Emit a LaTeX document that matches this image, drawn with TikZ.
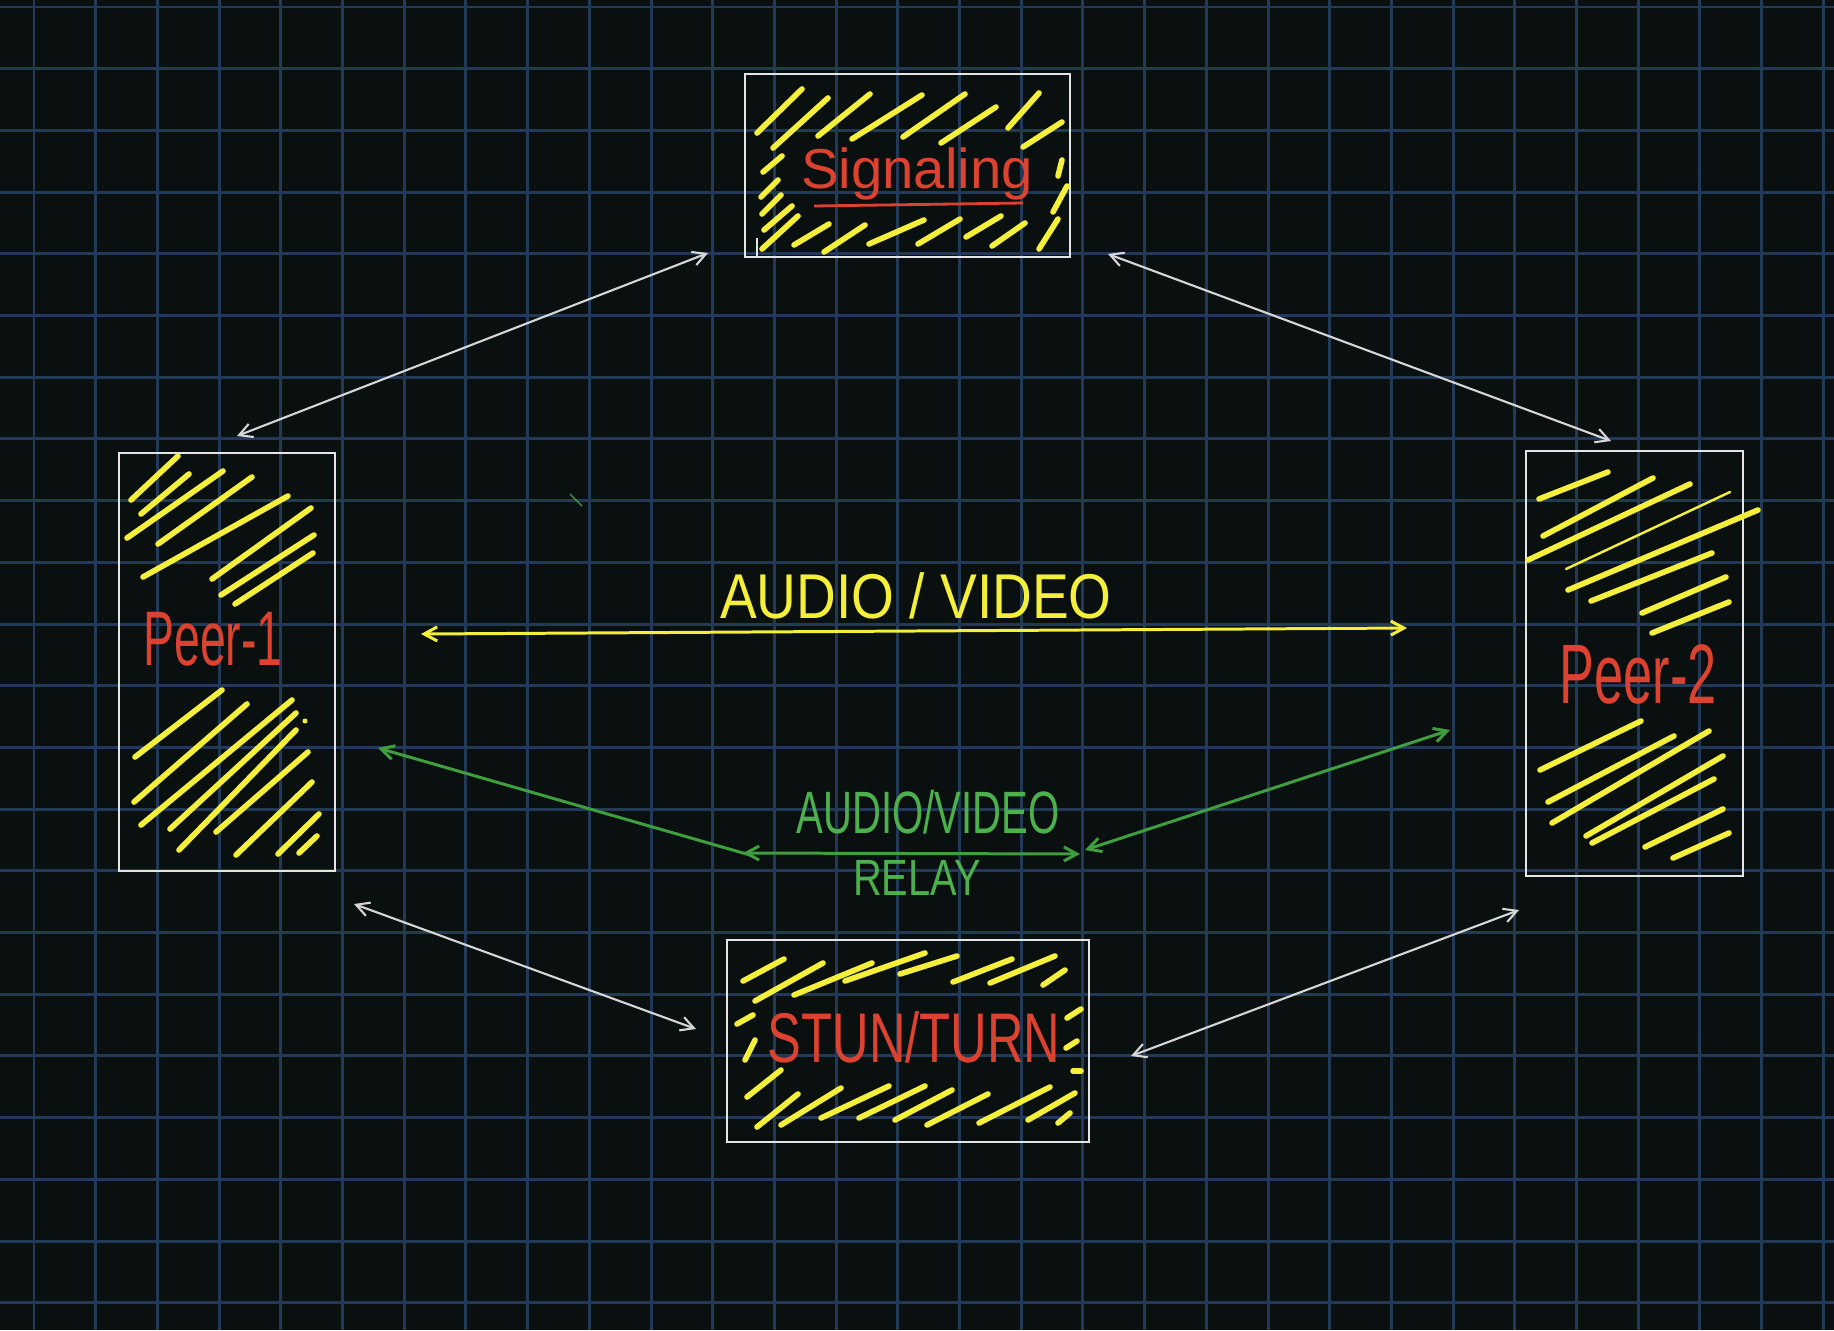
\documentclass[tikz,border=0pt]{standalone}
\usepackage{fontspec}
\newfontfamily\hand{Liberation Sans}
\usetikzlibrary{arrows.meta}

\definecolor{bgcol}{HTML}{0A0F10}
\definecolor{gridcol}{HTML}{223A58}
\definecolor{boxcol}{HTML}{E4E4E4}
\definecolor{linkcol}{HTML}{D6D6D6}
\definecolor{hatchcol}{HTML}{F4EF3A}
\definecolor{redtxt}{HTML}{DC4230}
\definecolor{relaycol}{HTML}{3F9F3F}
\definecolor{relaytxt}{HTML}{4CB04C}

\begin{document}
\begin{tikzpicture}[x=0.01cm, y=-0.01cm]
\tikzstyle{gridln}=[gridcol, line width=0.85pt]
\tikzstyle{box}=[draw=boxcol, line width=0.6pt, inner sep=0pt, rectangle]
\tikzstyle{hatch}=[hatchcol, line width=1.6pt, line cap=round]
\tikzstyle{lbl}=[inner sep=0pt, anchor=base]
\tikzstyle{link}=[<->, >={Straight Barb[length=1.3mm,width=1.4mm]}, line width=0.6pt, linkcol]
\tikzstyle{av}=[<->, >={Straight Barb[length=1.3mm,width=1.4mm]}, line width=0.85pt, hatchcol]
\tikzstyle{relay}=[>={Straight Barb[length=1.3mm,width=1.4mm]}, line width=0.85pt, relaycol]

% paper
\useasboundingbox (0,0) rectangle (1834,1330);
\fill[bgcol] (0,0) rectangle (1834,1330);
\foreach \i in {0,...,29}{\draw[gridln] ({34+61.7*\i},0) -- ({34+61.7*\i},1330);}
\foreach \j in {0,...,21}{\draw[gridln] (0,{7+61.7*\j}) -- (1834,{7+61.7*\j});}

% boxes
\node[box, minimum width=3.25cm, minimum height=1.83cm] (sig) at (907.5,165.5) {};
\node[box, minimum width=2.16cm, minimum height=4.18cm] (peer1) at (227,662) {};
\node[box, minimum width=2.17cm, minimum height=4.25cm] (peer2) at (1634.5,663.5) {};
\node[box, minimum width=3.62cm, minimum height=2.02cm] (turn) at (908,1041) {};

% scribbles
\foreach \xa/\ya/\xb/\yb in {757/133/802/89, 773/148/828/98, 818/136/870/94,
  852/139/922/95, 903/137/965/94, 941/143/996/107, 1008/128/1039/93,
  1023/147/1062/122, 763/172/782/156, 761/197/778/180, 762/214/781/195,
  764/230/792/206, 762/249/798/216, 794/245/829/224, 824/252/865/225,
  869/244/924/220, 918/244/960/219, 966/237/1001/216, 992/246/1025/223,
  1058/176/1062/160, 1053/212/1067/186, 1039/249/1058/219}
  {\draw[hatch] (\xa,\ya) -- (\xb,\yb);}
\foreach \xa/\ya/\xb/\yb in {131/500/178/456, 141/514/189/474, 127/538/223/471,
  158/544/252/477, 143/577/288/496, 212/579/311/508, 221/595/314/535,
  235/604/313/553, 135/757/222/690, 134/802/247/704, 141/825/292/700,
  170/829/296/713, 179/850/296/730, 216/832/308/752, 236/855/312/782,
  278/854/319/814, 299/853/317/836}
  {\draw[hatch] (\xa,\ya) -- (\xb,\yb);}
\foreach \xa/\ya/\xb/\yb in {1539/499/1608/472, 1543/536/1653/478, 1528/560/1690/484,
  1568/590/1758/510, 1591/601/1712/553, 1642/613/1726/577, 1652/633/1729/602,
  1540/770/1641/721, 1548/802/1674/736, 1552/823/1709/731, 1586/836/1723/756,
  1592/843/1714/779, 1645/847/1723/809, 1673/858/1729/833}
  {\draw[hatch] (\xa,\ya) -- (\xb,\yb);}
\draw[hatch, line width=0.7pt] (1566,569) -- (1730,492);
\foreach \xa/\ya/\xb/\yb in {743/981/784/959, 755/1001/823/963, 794/995/872/963,
  845/981/925/953, 900/974/957/956, 953/982/1012/959, 990/983/1055/956,
  1043/985/1065/970, 737/1024/753/1015, 745/1060/755/1040, 1067/1018/1081/1009,
  1066/1048/1077/1041, 1073/1071/1081/1071, 747/1097/781/1070, 757/1127/798/1094,
  781/1125/841/1088, 821/1118/889/1086, 859/1118/925/1086, 895/1120/952/1090,
  927/1125/988/1094, 979/1123/1050/1087, 1028/1120/1075/1093, 1058/1123/1070/1113}
  {\draw[hatch] (\xa,\ya) -- (\xb,\yb);}
\fill[hatchcol] (305,721) circle (2.5);
\draw[boxcol, line width=0.6pt] (757,238) -- (757,257);
\draw[relaycol, line width=0.4pt] (570,494) -- (582,506);

% labels
\node[lbl, redtxt, font=\hand\fontsize{16}{18}\selectfont] (sigtxt) at (917,188) {Signaling};
\draw[redtxt, line width=0.8pt] (814,206) -- (1023,203);
\node[lbl, redtxt, font=\hand\fontsize{22}{24}\selectfont, xscale=0.6, transform shape] (p1txt) at (213,665) {Peer-1};
\node[lbl, redtxt, font=\hand\fontsize{24}{26}\selectfont, xscale=0.62, transform shape] (p2txt) at (1638,703) {Peer-2};
\node[lbl, redtxt, font=\hand\fontsize{20}{22}\selectfont, xscale=0.72, transform shape] (turntxt) at (914,1062) {STUN/TURN};
\node[lbl, hatchcol, font=\hand\fontsize{18}{20}\selectfont, xscale=0.87, transform shape] (avtxt) at (916,618) {AUDIO / VIDEO};
\node[lbl, relaytxt, font=\hand\fontsize{17}{19}\selectfont, xscale=0.67, transform shape] (rtxt) at (928,833) {AUDIO/VIDEO};
\node[lbl, relaytxt, font=\hand\fontsize{14.5}{16}\selectfont, xscale=0.78, transform shape] (rtxt2) at (917,895) {RELAY};

% arrow ends
\coordinate (s1) at (708,253);   \coordinate (p1a) at (237,436);
\coordinate (s2) at (1108,254);  \coordinate (p2a) at (1611,441);
\coordinate (p1b) at (354,904);  \coordinate (t1) at (696,1029);
\coordinate (p2b) at (1519,910); \coordinate (t2) at (1131,1056);
\coordinate (av1) at (421,634);  \coordinate (av2) at (1407,628);
\coordinate (gl1) at (378,748);  \coordinate (gl2) at (750,855);
\coordinate (gh1) at (743,853);  \coordinate (gh2) at (1080,854);
\coordinate (gr1) at (1085,850); \coordinate (gr2) at (1450,730);

\draw[link] (s1) -- (p1a);
\draw[link] (s2) -- (p2a);
\draw[link] (p1b) -- (t1);
\draw[link] (p2b) -- (t2);
\draw[av] (av1) -- (av2);
\draw[relay, ->] (gl2) -- (gl1);
\draw[relay, <->] (gh1) -- (gh2);
\draw[relay, <->] (gr1) -- (gr2);

\end{tikzpicture}
\end{document}
